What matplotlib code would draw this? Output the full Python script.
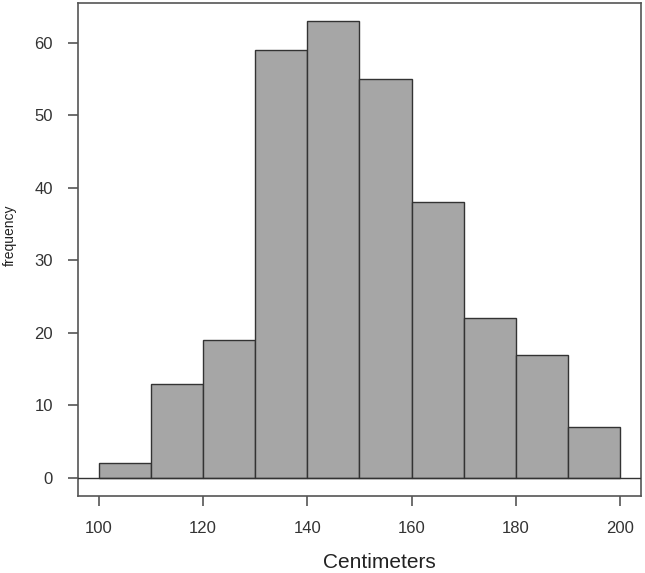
import matplotlib
matplotlib.use("Agg")
import matplotlib.pyplot as plt

plt.rcParams['font.family'] = ['Liberation Sans', 'DejaVu Sans']

# histogram bins and counts
bin_edges = [100, 110, 120, 130, 140, 150, 160, 170, 180, 190, 200]
counts = [2, 13, 19, 59, 63, 55, 38, 22, 17, 7]
x_ticks = [100, 120, 140, 160, 180, 200]
y_ticks = [0, 10, 20, 30, 40, 50, 60]

fig = plt.figure(figsize=(6.45, 5.73), dpi=100)
ax = fig.add_axes([0.1209, 0.1344, 0.8729, 0.8604])

lefts = bin_edges[:-1]
widths = [b - a for a, b in zip(bin_edges[:-1], bin_edges[1:])]
ax.bar(lefts, counts, width=widths, align='edge', color='#a6a6a6',
       edgecolor='#333333', linewidth=1.0, zorder=2)
ax.axhline(0, color='#333333', linewidth=1.0, zorder=3)

ax.set_xlim(96, 204)
ax.set_ylim(-2.52, 65.52)
ax.set_xticks(x_ticks)
ax.set_yticks(y_ticks)

for s in ax.spines.values():
    s.set_color('#555555')
    s.set_linewidth(1.2)

ax.tick_params(axis='both', colors='#555555', labelcolor='#333333',
               labelsize=12, width=1.2)
ax.tick_params(axis='x', length=7, pad=11)
ax.tick_params(axis='y', length=7, pad=11)

ax.set_xlabel('Centimeters', fontsize=15, color='#222222')
ax.xaxis.set_label_coords(0.535, -0.115)
ax.set_ylabel('frequency', fontsize=10, color='#222222')
ax.yaxis.set_label_coords(-0.108, 0.529)

fig.savefig('out.png', dpi=100)
